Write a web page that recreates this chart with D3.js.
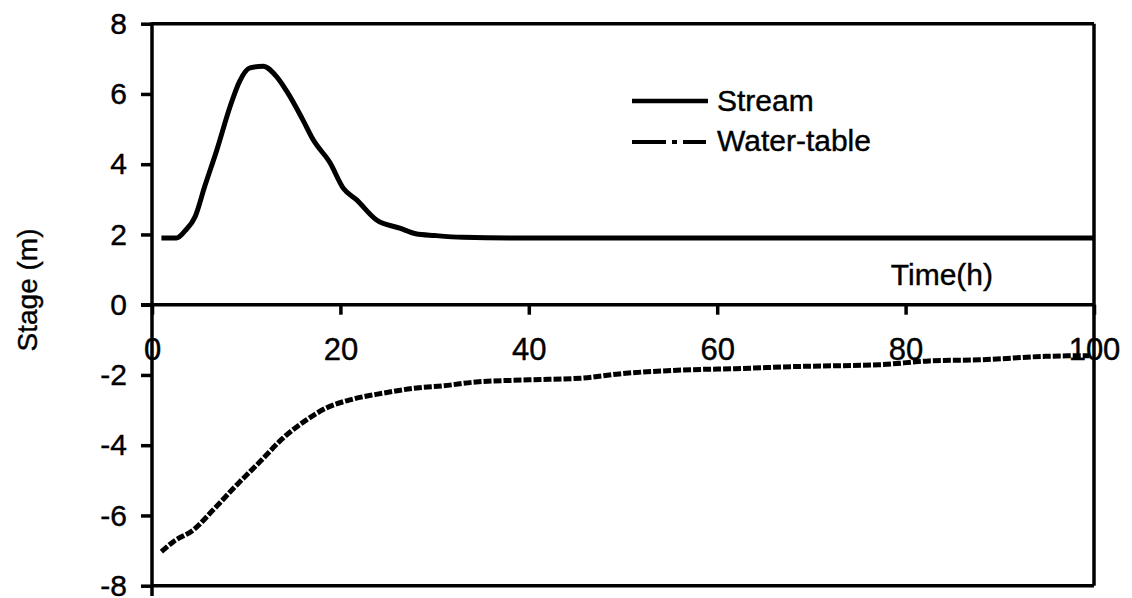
<!DOCTYPE html>
<html>
<head>
<meta charset="utf-8">
<script src="https://cdn.jsdelivr.net/npm/d3@7"></script>
<style>
  html, body { margin: 0; padding: 0; background: #fff; }
  svg { display: block; font-family: "Liberation Sans", Arial, sans-serif; }
  svg text { fill: #000; stroke: #000; stroke-width: 0.4px; }
</style>
</head>
<body>
<svg id="chart" width="1132" height="598"></svg>
<script>
// Stream stage hydrograph (m) against time (h)
const streamTime  = [1, 2.6, 3.5, 4.6, 5.6, 6.9, 8.3, 9.3, 10.4, 11.8, 13.2, 14.3, 16.0, 17.1, 18.9, 20.3, 21.7, 23.8, 26.3, 28, 30, 33, 40, 50, 60, 70, 80, 90, 100];
const streamStage = [1.9, 1.9, 2.1, 2.52, 3.37, 4.42, 5.65, 6.36, 6.74, 6.79, 6.5, 6.08, 5.27, 4.7, 4.04, 3.32, 2.99, 2.42, 2.18, 2.02, 1.97, 1.92, 1.9, 1.9, 1.9, 1.9, 1.9, 1.9, 1.9];

// Water-table stage (m) against time (h)
const wtTime  = [1, 2.3, 4.4, 6.5, 9.0, 11.5, 13.9, 16.4, 18.5, 21.0, 24.5, 28.1, 30.9, 34.4, 40, 45.7, 49.6, 57.4, 62, 68.4, 77.2, 82.5, 87.8, 94.9, 99.5];
const wtStage = [-7.03, -6.74, -6.41, -5.84, -5.13, -4.46, -3.8, -3.28, -2.94, -2.71, -2.52, -2.37, -2.31, -2.2, -2.14, -2.09, -1.97, -1.85, -1.82, -1.76, -1.71, -1.6, -1.57, -1.47, -1.45];

// Axis ticks
const xTicks = [0, 20, 40, 60, 80, 100];
const yTicks = [-8, -6, -4, -2, 0, 2, 4, 6, 8];

const seriesNames = ["Stream", "Water-table"];
const xTitle = "Time(h)";
const yTitle = "Stage (m)";

const svg = d3.select("#chart");

const x = d3.scaleLinear().domain([0, 100]).range([152, 1094]);
const y = d3.scaleLinear().domain([-8, 8]).range([585.7, 23.7]);

const fmt = d => String(d);

// Frame: top, right and bottom edges
const frame = svg.append("g").attr("stroke", "#000").attr("stroke-width", 3.5).attr("fill", "none");
frame.append("line").attr("x1", x(0)).attr("x2", x(100)).attr("y1", y(8)).attr("y2", y(8));
frame.append("line").attr("x1", x(0)).attr("x2", x(100)).attr("y1", y(-8)).attr("y2", y(-8));
frame.append("line").attr("x1", x(100)).attr("x2", x(100)).attr("y1", y(8)).attr("y2", y(-8));

// Left value axis
const yAxis = svg.append("g")
  .attr("transform", `translate(${x(0)},0)`)
  .call(d3.axisLeft(y).tickValues(yTicks).tickSize(11).tickPadding(14).tickFormat(fmt));
yAxis.select(".domain").remove();
yAxis.selectAll(".tick line").attr("stroke", "#000").attr("stroke-width", 3.5);
yAxis.selectAll(".tick text").attr("font-size", 30)
  .attr("font-family", "Liberation Sans, Arial, sans-serif");
svg.append("line").attr("x1", x(0)).attr("x2", x(0)).attr("y1", y(8) - 1.5).attr("y2", 596)
  .attr("stroke", "#000").attr("stroke-width", 3.5);

// Time axis drawn along stage = 0
const xAxis = svg.append("g")
  .attr("transform", `translate(0,${y(0)})`)
  .call(d3.axisBottom(x).tickValues(xTicks).tickSize(10).tickPadding(23).tickSizeOuter(0).tickFormat(fmt));
xAxis.select(".domain").attr("stroke", "#000").attr("stroke-width", 3.5)
  .attr("d", `M${x(0) - 11},0H${x(100)}`);
xAxis.selectAll(".tick line").attr("stroke", "#000").attr("stroke-width", 3.5);
xAxis.selectAll(".tick text").attr("font-size", 31)
  .attr("font-family", "Liberation Sans, Arial, sans-serif");

// Axis titles
svg.append("text")
  .attr("x", 993).attr("y", 285)
  .attr("text-anchor", "end")
  .attr("font-size", 30)
  .text(xTitle);

svg.append("text")
  .attr("transform", "translate(37,290) rotate(-90)")
  .attr("text-anchor", "middle")
  .attr("font-size", 28)
  .text(yTitle);

// Series lines
const line = d3.line().curve(d3.curveMonotoneX);

svg.append("path")
  .attr("d", line(streamTime.map((t, i) => [x(t), y(streamStage[i])])))
  .attr("fill", "none").attr("stroke", "#000").attr("stroke-width", 5)
  .attr("stroke-linejoin", "round");

svg.append("path")
  .attr("d", line(wtTime.map((t, i) => [x(t), y(wtStage[i])])))
  .attr("fill", "none").attr("stroke", "#000").attr("stroke-width", 5)
  .attr("stroke-dasharray", "8,2");

// Legend
const legend = svg.append("g");
legend.append("line").attr("x1", 632).attr("x2", 708).attr("y1", 101).attr("y2", 101)
  .attr("stroke", "#000").attr("stroke-width", 4.5);
legend.append("line").attr("x1", 632).attr("x2", 706).attr("y1", 142).attr("y2", 142)
  .attr("stroke", "#000").attr("stroke-width", 4).attr("stroke-dasharray", "34,6,5,6,30");
legend.selectAll("text.lab").data(seriesNames).join("text")
  .attr("class", "lab")
  .attr("x", 717).attr("y", (d, i) => 111 + i * 40)
  .attr("font-size", 30)
  .text(d => d);
</script>
</body>
</html>
